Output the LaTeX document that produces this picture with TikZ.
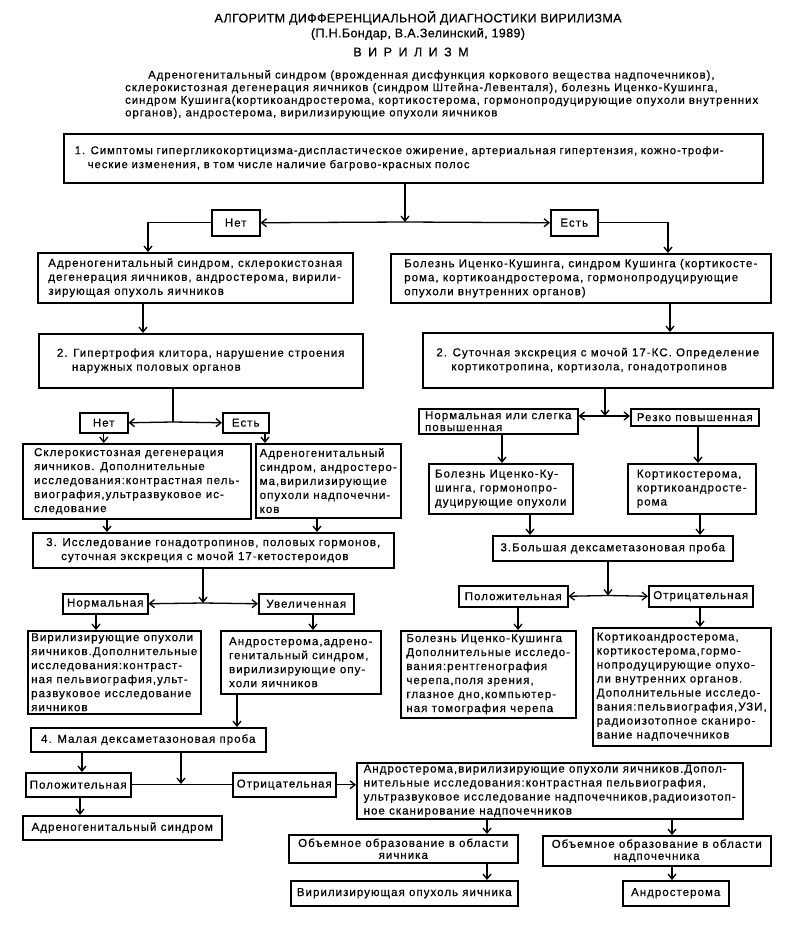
\documentclass[tikz,border=0pt]{standalone}
\usepackage{fontspec}
\setmainfont[LetterSpace=9, FakeBold=0.5]{Liberation Sans}
\newfontfamily\headfam[LetterSpace=3, FakeBold=0.6]{Liberation Sans}
\usetikzlibrary{arrows.meta}
\newcommand{\bodyfont}{\fontsize{11.5}{14}\selectfont}
\newcommand{\firstfont}{\fontsize{11.2}{14}\selectfont}
\newcommand{\tightfont}{\fontsize{11.5}{12}\selectfont}
\newcommand{\titlefont}{\headfam\fontsize{12.5}{14}\selectfont}
\newcommand{\virfont}{\headfam\fontsize{12.5}{14}\selectfont\spaceskip=6.5pt\relax}
\newcommand{\introfont}{\fontsize{11.3}{12.6}\selectfont}

\begin{document}
\begin{tikzpicture}[x=1pt, y=-1pt,
		blk/.style={draw, line width=1.5pt, align=left, anchor=north west, inner xsep=3pt, inner ysep=1pt, font=\bodyfont},
		tag/.style={blk, align=center},
		link/.style={line width=1.3pt},
		>={Straight Barb[length=5pt, width=8pt]}]

	\useasboundingbox (0,0) rectangle (800,935);

	% header
	\node[font=\titlefont] (ttl) at (418,18) {АЛГОРИТМ ДИФФЕРЕНЦИАЛЬНОЙ ДИАГНОСТИКИ ВИРИЛИЗМА};
	\node[font=\titlefont] (auth) at (418,34) {(П.Н.Бондар, В.А.Зелинский, 1989)};
	\node[font=\virfont] (vir) at (411,52) {В И Р И Л И З М};
	\node[anchor=north west, align=left, inner sep=0pt, font=\introfont] (intro) at (125,70)
		{\hspace*{23pt}Адреногенитальный синдром (врожденная дисфункция коркового вещества надпочечников),\\
		склерокистозная дегенерация яичников (синдром Штейна-Левенталя), болезнь Иценко-Кушинга,\\
		синдром Кушинга(кортикоандростерома, кортикостерома, гормонопродуцирующие опухоли внутренних\\
		органов), андростерома, вирилизирующие опухоли яичников};

	% step 1
	\node[blk, text width=677pt, inner xsep=11pt, minimum height=49pt, font=\firstfont] (b1) at (63,133)
		{1. Симптомы гипергликокортицизма-диспластическое ожирение, артериальная гипертензия, кожно-трофи-\\
		\hspace*{13pt}ческие изменения, в том числе наличие багрово-красных полос};
	\node[tag, minimum width=48pt, minimum height=26pt] (n1) at (211,209) {Нет};
	\node[tag, minimum width=47pt, minimum height=26pt] (y1) at (550,209) {Есть};

	% left branch
	\node[blk, minimum width=315pt, minimum height=50pt] (l1) at (37,252)
		{Адреногенитальный синдром, склерокистозная\\
		дегенерация яичников, андростерома, вирили-\\
		зирующая опухоль яичников};
	\node[blk, minimum width=324pt, minimum height=54pt] (l2) at (38,333)
		{2. Гипертрофия клитора, нарушение строения\\
		\hspace*{15pt}наружных половых органов};
	\node[tag, minimum width=48pt, minimum height=20pt] (n2) at (79,412) {Нет};
	\node[tag, minimum width=46pt, minimum height=20pt] (y2) at (222,412) {Есть};
	\node[blk, minimum width=228pt, minimum height=75pt] (l3a) at (22,443)
		{Склерокистозная дегенерация\\
		яичников. Дополнительные\\
		исследования:контрастная пель-\\
		виография,ультразвуковое ис-\\
		следование};
	\node[blk, minimum width=145pt, minimum height=74pt] (l3b) at (255,443)
		{Адреногенитальный\\
		синдром, андростеро-\\
		ма,вирилизирующие\\
		опухоли надпочечни-\\
		ков};
	\node[blk, minimum width=361pt, minimum height=35pt] (b3) at (32,532)
		{3. Исследование гонадотропинов, половых гормонов,\\
		\hspace*{15pt}суточная экскреция с мочой 17-кетостероидов};
	\node[tag, minimum width=85pt, minimum height=20pt] (n3) at (62,593) {Нормальная};
	\node[tag, minimum width=95pt, minimum height=20pt] (y3) at (258,593) {Увеличенная};
	\node[blk, minimum width=173pt, minimum height=83pt] (l5a) at (27,630)
		{Вирилизирующие опухоли\\
		яичников.Дополнительные\\
		исследования:контраст-\\
		ная пельвиография,ульт-\\
		развуковое исследование\\
		яичников};
	\node[blk, minimum width=160pt, minimum height=63pt] (l5b) at (220,630)
		{Андростерома,адрено-\\
		генитальный синдром,\\
		вирилизирующие опу-\\
		холи яичников};
	\node[blk, minimum width=235pt, minimum height=24pt] (l6) at (30,727)
		{4. Малая дексаметазоновая проба};
	\node[tag, minimum width=105pt, minimum height=24pt] (p4) at (25,772) {Положительная};
	\node[tag, minimum width=103pt, minimum height=24pt] (o4) at (232,772) {Отрицательная};
	\node[blk, minimum width=199pt, minimum height=24pt] (a5) at (22,815)
		{Адреногенитальный синдром};
	\node[blk, minimum width=386pt, minimum height=56pt] (big) at (356,762)
		{Андростерома,вирилизирующие опухоли яичников.Допол-\\
		нительные исследования:контрастная пельвиография,\\
		ультразвуковое исследование надпочечников,радиоизотоп-\\
		ное сканирование надпочечников};
	\node[tag, minimum width=229pt, minimum height=28pt, font=\tightfont] (v1) at (288,834)
		{Объемное образование в области\\яичника};
	\node[tag, minimum width=227pt, minimum height=25pt] (v2) at (290,880)
		{Вирилизирующая опухоль яичника};
	\node[tag, minimum width=228pt, minimum height=30pt, font=\tightfont] (v3) at (542,835)
		{Объемное образование в области\\надпочечника};
	\node[tag, minimum width=106pt, minimum height=25pt] (v4) at (622,880)
		{Андростерома};

	% right branch
	\node[blk, minimum width=380pt, minimum height=49pt] (r1) at (390,253)
		{Болезнь Иценко-Кушинга, синдром Кушинга (кортикосте-\\
		рома, кортикоандростерома, гормонопродуцирующие\\
		опухоли внутренних органов)};
	\node[blk, minimum width=350pt, minimum height=55pt] (r2) at (422,332)
		{2. Суточная экскреция с мочой 17-КС. Определение\\
		\hspace*{15pt}кортикотропина, кортизола, гонадотропинов};
	\node[blk, minimum width=159pt, minimum height=25pt, inner ysep=0pt, font=\tightfont] (r3a) at (418,408)
		{Нормальная или слегка\\
		повышенная};
	\node[tag, minimum width=128pt, minimum height=17pt, inner ysep=0pt] (r3b) at (630,408) {Резко повышенная};
	\node[blk, minimum width=144pt, minimum height=50pt] (r4a) at (428,463)
		{Болезнь Иценко-Ку-\\
		шинга, гормонопро-\\
		дуцирующие опухоли};
	\node[blk, minimum width=128pt, minimum height=50pt] (r4b) at (627,463)
		{Кортикостерома,\\
		кортикоандросте-\\
		рома};
	\node[blk, minimum width=240pt, minimum height=25pt] (b5) at (492,535)
		{3.Большая дексаметазоновая проба};
	\node[tag, minimum width=109pt, minimum height=21pt] (p6) at (458,585) {Положительная};
	\node[tag, minimum width=104pt, minimum height=21pt] (o6) at (648,585) {Отрицательная};
	\node[blk, minimum width=175pt, minimum height=87pt] (r7a) at (400,630)
		{Болезнь Иценко-Кушинга\\
		Дополнительные исследо-\\
		вания:рентгенография\\
		черепа,поля зрения,\\
		глазное дно,компьютер-\\
		ная томография черепа};
	\node[blk, minimum width=178pt, minimum height=118pt] (r7b) at (592,627)
		{Кортикоандростерома,\\
		кортикостерома,гормо-\\
		нопродуцирующие опухо-\\
		ли внутренних органов.\\
		Дополнительные исследо-\\
		вания:пельвиография,УЗИ,\\
		радиоизотопное сканиро-\\
		вание надпочечников};

	% junctions
	\coordinate (c1) at (405,222);
	\coordinate (c2) at (173,422);
	\coordinate (c3) at (203,603);
	\coordinate (c4) at (181,784);
	\coordinate (c5) at (605,416);
	\coordinate (c6) at (608,595.5);

	% connectors, left
	\draw[link,->] (b1.south -| c1) -- (c1);
	\draw[link,->] (c1) -- (n1.east);
	\draw[link,->] (c1) -- (y1.west);
	\draw[link,->] (n1.west) -| (l1.north -| 148,0);
	\draw[link,->] (y1.east) -| (r1.north -| 668,0);
	\draw[link,->] (l1.south -| 143,0) -- (l2.north -| 143,0);
	\draw[link] (l2.south -| c2) -- (c2);
	\draw[link,->] (c2) -- (n2.east);
	\draw[link,->] (c2) -- (y2.west);
	\draw[link,->] (n2.south) -- (n2.south |- l3a.north);
	\draw[link,->] (y2.south -| 265,0) -- (l3b.north -| 265,0);
	\draw[link,->] (l3a.south -| 107,0) -- (b3.north -| 107,0);
	\draw[link,->] (l3b.south -| 317,0) -- (b3.north -| 317,0);
	\draw[link,->] (b3.south -| c3) -- (c3);
	\draw[link,->] (c3) -- (n3.east);
	\draw[link,->] (c3) -- (y3.west);
	\draw[link,->] (n3.south -| 96,0) -- (l5a.north -| 96,0);
	\draw[link,->] (y3.south -| 313,0) -- (l5b.north -| 313,0);
	\draw[link,->] (l5b.south -| 237,0) -- (l6.north -| 237,0);
	\draw[link,->] (l6.south -| 82,0) -- (p4.north -| 82,0);
	\draw[link,->] (l6.south -| c4) -- (c4);
	\draw[link] (p4.east) -- (o4.west);
	\draw[link,->] (o4.east) -- (big.west |- o4.east);
	\draw[link,->] (p4.south -| 80,0) -- (a5.north -| 80,0);
	\draw[link,->] (big.south -| 487,0) -- (v1.north -| 487,0);
	\draw[link,->] (v1.south -| 487,0) -- (v2.north -| 487,0);
	\draw[link,->] (big.south -| 672,0) -- (v3.north -| 672,0);
	\draw[link,->] (v3.south -| 672,0) -- (v4.north -| 672,0);

	% connectors, right
	\draw[link,->] (r1.south -| 670,0) -- (r2.north -| 670,0);
	\draw[link,->] (r2.south -| c5) -- (c5);
	\draw[link,->] (c5) -- (r3a.east |- c5);
	\draw[link,->] (c5) -- (r3b.west |- c5);
	\draw[link,->] (r3a.south -| 502,0) -- (r4a.north -| 502,0);
	\draw[link,->] (r3b.south -| 698,0) -- (r4b.north -| 698,0);
	\draw[link,->] (r4a.south -| 530,0) -- (b5.north -| 530,0);
	\draw[link,->] (r4b.south -| 700,0) -- (b5.north -| 700,0);
	\draw[link,->] (b5.south -| c6) -- (c6);
	\draw[link,->] (c6) -- (p6.east);
	\draw[link,->] (c6) -- (o6.west);
	\draw[link,->] (p6.south -| 518,0) -- (r7a.north -| 518,0);
	\draw[link,->] (o6.south -| 700,0) -- (r7b.north -| 700,0);
\end{tikzpicture}
\end{document}
